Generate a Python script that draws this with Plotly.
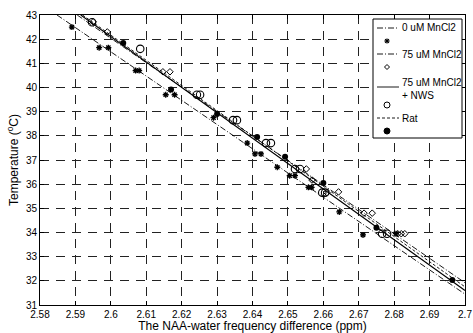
import plotly.graph_objects as go

# ---------------- data ----------------
mn0_x = [2.589, 2.5967, 2.5993, 2.607, 2.608, 2.6155, 2.618, 2.629, 2.6385, 2.6407, 2.6424,
         2.647, 2.6505, 2.652, 2.6558, 2.6567, 2.6645, 2.6712, 2.6805]
mn0_y = [42.5, 41.65, 41.65, 40.7, 40.7, 39.7, 39.7, 38.75, 37.7, 37.25, 37.25,
         36.7, 36.35, 36.35, 35.87, 35.87, 34.85, 33.9, 33.95]

mn75_x = [2.595, 2.599, 2.6147, 2.6167, 2.6552, 2.6568, 2.661, 2.6643, 2.6715, 2.6738, 2.681, 2.682, 2.683]
mn75_y = [42.72, 42.3, 40.65, 40.65, 36.63, 36.17, 35.65, 35.68, 34.8, 34.8, 33.95, 33.95, 33.95]

nws_x = [2.5947, 2.6083, 2.6243, 2.6252, 2.6345, 2.6356, 2.6438, 2.6452, 2.652, 2.6534,
         2.6597, 2.6605, 2.6766, 2.678]
nws_y = [42.7, 41.6, 39.7, 39.7, 38.65, 38.65, 37.7, 37.7, 36.63, 36.63,
         35.65, 35.65, 33.95, 33.95]

rat_x = [2.6035, 2.617, 2.630, 2.6413, 2.6492, 2.660, 2.675, 2.6964]
rat_y = [41.84, 39.92, 38.9, 37.95, 37.13, 36.05, 34.2, 32.03]

# fitted lines (endpoints)
fit0_x, fit0_y = [2.5848, 2.70], [43.0, 31.45]
fit75_x, fit75_y = [2.5905, 2.70], [43.0, 31.92]
fitnws_x, fitnws_y = [2.5915, 2.70], [43.0, 31.6]
fitrat_x, fitrat_y = [2.592, 2.70], [43.0, 31.75]

legend_labels = ["0 uM MnCl2", "75 uM MnCl2", "75 uM MnCl2<br>+ NWS", "Rat"]

x_ticks = [2.58, 2.59, 2.60, 2.61, 2.62, 2.63, 2.64, 2.65, 2.66, 2.67, 2.68, 2.69, 2.70]
x_tick_text = ["2.58", "2.59", "2.6", "2.61", "2.62", "2.63", "2.64", "2.65", "2.66", "2.67", "2.68", "2.69", "2.7"]
y_ticks = list(range(31, 44))

FONT = "Liberation Sans, Arial, Helvetica, sans-serif"

fig = go.Figure()

lw = 0.9
DASHDOT = "6px,2px,1px,2px"
fig.add_trace(go.Scatter(x=fit0_x, y=fit0_y, mode="lines", line=dict(color="black", width=lw, dash=DASHDOT), showlegend=False))
fig.add_trace(go.Scatter(x=fit75_x, y=fit75_y, mode="lines", line=dict(color="black", width=lw, dash=DASHDOT), showlegend=False))
fig.add_trace(go.Scatter(x=fitnws_x, y=fitnws_y, mode="lines", line=dict(color="black", width=1.1), showlegend=False))
fig.add_trace(go.Scatter(x=fitrat_x, y=fitrat_y, mode="lines", line=dict(color="black", width=lw, dash="3px,2px"), showlegend=False))

fig.add_trace(go.Scatter(x=mn0_x, y=mn0_y, mode="markers",
                         marker=dict(symbol="asterisk-open", size=5, color="black", line=dict(color="black", width=1.3)),
                         showlegend=False))
fig.add_trace(go.Scatter(x=mn75_x, y=mn75_y, mode="markers",
                         marker=dict(symbol="diamond-open", size=5, color="black", line=dict(color="black", width=1)),
                         showlegend=False))
fig.add_trace(go.Scatter(x=nws_x, y=nws_y, mode="markers",
                         marker=dict(symbol="circle-open", size=7.5, color="black", line=dict(color="black", width=1.1)),
                         showlegend=False))
fig.add_trace(go.Scatter(x=rat_x, y=rat_y, mode="markers",
                         marker=dict(symbol="circle", size=6, color="black"),
                         showlegend=False))

# ---------- manual legend (paper coordinates) ----------
L, R, T, B = 40, 465, 15, 305
def px(xp):
    return (xp - L) / (R - L)
def py(yp):
    return (B - yp) / (B - T)

shapes = []
annotations = []
shapes.append(dict(type="rect", xref="paper", yref="paper", x0=px(373), x1=px(462), y0=py(138), y1=py(19),
                   line=dict(color="black", width=1), fillcolor="white", layer="above"))
line_rows = [28, 54, 87, 118]
dashes = [DASHDOT, DASHDOT, "solid", "3px,2px"]
marker_rows = [41, 67, 105, 131]
for i, lab in enumerate(legend_labels):
    shapes.append(dict(type="line", xref="paper", yref="paper", x0=px(377), x1=px(399),
                       y0=py(line_rows[i]), y1=py(line_rows[i]),
                       line=dict(color="black", width=0.9, dash=dashes[i]), layer="above"))
    if i == 2:
        annotations.append(dict(xref="paper", yref="paper", x=px(400), y=py(75), text=lab,
                                showarrow=False, xanchor="left", yanchor="top", align="left",
                                font=dict(family=FONT, size=10, color="black")))
    else:
        annotations.append(dict(xref="paper", yref="paper", x=px(400), y=py(line_rows[i]), text=lab,
                                showarrow=False, xanchor="left", yanchor="middle", align="left",
                                font=dict(family=FONT, size=10, color="black")))
mx = 387
my = marker_rows[0]
for dx, dy in [(-2.6, 0), (0, -2.6), (-1.9, -1.9), (-1.9, 1.9)]:
    shapes.append(dict(type="line", xref="paper", yref="paper", x0=px(mx + dx), x1=px(mx - dx),
                       y0=py(my + dy), y1=py(my - dy), line=dict(color="black", width=1.2), layer="above"))
my = marker_rows[1]
shapes.append(dict(type="path", xref="paper", yref="paper",
                   path=f"M {px(mx)} {py(my-2.5)} L {px(mx+2.5)} {py(my)} L {px(mx)} {py(my+2.5)} L {px(mx-2.5)} {py(my)} Z",
                   line=dict(color="black", width=1), layer="above"))
my = marker_rows[2]
shapes.append(dict(type="circle", xref="paper", yref="paper", x0=px(mx-3), x1=px(mx+3), y0=py(my+3), y1=py(my-3),
                   line=dict(color="black", width=1), layer="above"))
my = marker_rows[3]
shapes.append(dict(type="circle", xref="paper", yref="paper", x0=px(mx-3), x1=px(mx+3), y0=py(my+3), y1=py(my-3),
                   line=dict(color="black", width=1), fillcolor="black", layer="above"))

axis_common = dict(
    showline=True, linecolor="black", linewidth=1, mirror="ticks",
    ticks="inside", ticklen=4, tickcolor="black",
    showgrid=True, gridcolor="#222222", gridwidth=0.8, griddash="9px,7px",
    zeroline=False, tickfont=dict(family=FONT, size=10, color="black"),
)

fig.update_xaxes(range=[2.58, 2.70], tickvals=x_ticks, ticktext=x_tick_text,
                 title=dict(text="The NAA-water frequency difference (ppm)", standoff=0,
                            font=dict(family=FONT, size=12, color="black")),
                 **axis_common)
fig.update_yaxes(range=[31, 43], tickvals=y_ticks,
                 title=dict(text="Temperature (<sup>o</sup>C)", standoff=4,
                            font=dict(family=FONT, size=12, color="black")),
                 **axis_common)

fig.update_layout(
    width=473, height=333,
    margin=dict(l=40, r=8, t=15, b=28, autoexpand=False),
    paper_bgcolor="white", plot_bgcolor="white",
    shapes=shapes, annotations=annotations,
    showlegend=False,
    font=dict(family=FONT, color="black"),
)

fig.write_html("out.html", config={"displayModeBar": False},
               post_script="document.body.style.margin='0';document.body.style.overflow='hidden';")
